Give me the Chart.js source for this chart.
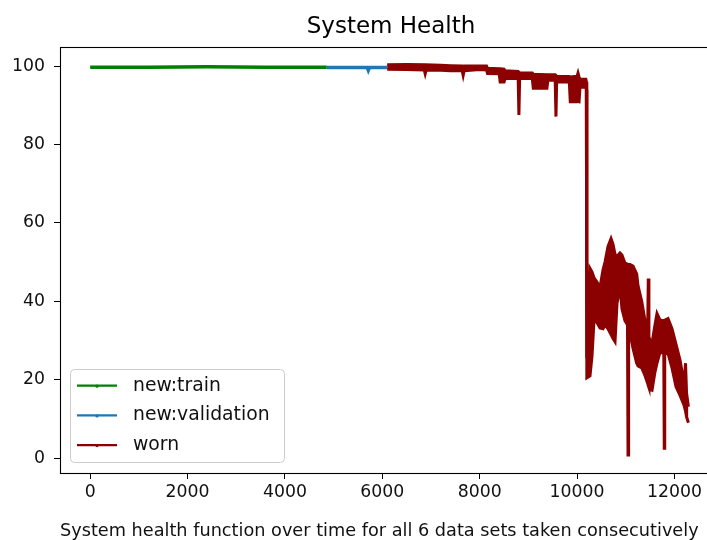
<!DOCTYPE html>
<html>
<head>
<meta charset="utf-8">
<script src="https://cdn.jsdelivr.net/npm/chart.js@4.4.1/dist/chart.umd.min.js"></script>
<style>
    html, body { margin: 0; padding: 0; background: #fff; overflow: hidden; }
    #wrap { width: 707px; height: 540px; overflow: hidden; }
    canvas { display: block; }
</style>
</head>
<body>
<div id="wrap"><canvas id="healthChart" width="722" height="540"></canvas></div>
<script>

// ticks
const xTicks = [0, 2000, 4000, 6000, 8000, 10000, 12000];
const yTicks = [0, 20, 40, 60, 80, 100];

// new:train
const trainT = [0, 1200, 2400, 3600, 4860];
const trainH = [99.7, 99.7, 99.8, 99.7, 99.7];

// new:validation
const validT = [4860, 5300, 5690, 5712, 5735, 6100];
const validH = [99.6, 99.6, 99.6, 98.9, 99.6, 99.6];

// worn: upper and lower edge of the noisy band
const wornT = [6100, 6500, 6860, 6880, 6900, 7200, 7400, 7640, 7660, 7680,
    8000, 8140, 8160, 8400, 8420, 8500, 8520, 8790, 8805, 8820,
    9080, 9100, 9380, 9400, 9550, 9566, 9580, 9840, 9860, 10000,
    10019, 10040, 10060, 10180, 10190, 10200, 10265, 10306, 10347, 10402,
    10470, 10532, 10573, 10635, 10697, 10738, 10779, 10820, 10881, 10922,
    10984, 11035, 11046, 11058, 11087, 11149, 11224, 11251, 11327, 11395,
    11450, 11462, 11475, 11497, 11539, 11600, 11641, 11703, 11780, 11790,
    11800, 11867, 11949, 12032, 12114, 12196, 12227, 12248, 12286];
const wornHi = [100.3, 100.4, 100.3, 99.8, 100.3, 100.2, 100.1, 100.0, 99.7, 100.0,
    100.0, 100.0, 99.4, 99.3, 99.3, 99.2, 98.8, 98.6, 98.4, 98.3,
    98.2, 97.9, 97.8, 97.8, 97.8, 97.6, 97.4, 97.3, 97.2, 97.4,
    98.2, 97.2, 96.6, 96.6, 96.0, 25.5, 48.4, 47.5, 46.0, 45.0,
    43.5, 48.0, 50.0, 54.0, 56.0, 54.5, 52.0, 51.4, 52.3, 51.8,
    49.7, 49.5, 49.4, 49.4, 49.4, 49.0, 47.0, 44.0, 40.0, 35.0,
    33.0, 45.8, 31.0, 30.0, 29.3, 34.0, 36.9, 35.2, 35.0, 35.0,
    35.2, 35.6, 33.0, 29.0, 25.0, 19.0, 24.2, 16.6, 13.1];
const wornLo = [99.2, 99.1, 99.0, 98.0, 99.0, 98.9, 98.8, 98.8, 97.6, 98.8,
    99.1, 99.0, 98.1, 98.0, 95.9, 95.9, 96.8, 96.8, 87.5, 96.8,
    96.8, 94.3, 94.3, 96.4, 96.4, 87.1, 95.9, 95.9, 90.9, 90.9,
    91.0, 90.9, 94.6, 94.6, 94.0, 20.5, 21.0, 26.0, 35.0, 34.7,
    33.2, 33.0, 34.0, 33.0, 31.5, 30.5, 29.7, 39.5, 43.6, 38.0,
    35.0, 34.0, 0.8, 33.0, 32.0, 28.0, 24.2, 23.5, 23.0, 21.0,
    19.0, 18.5, 18.0, 17.5, 17.3, 22.0, 24.2, 27.0, 26.7, 2.5,
    26.7, 26.7, 23.0, 18.2, 16.0, 13.5, 12.0, 10.5, 9.0];

const FONT = "'DejaVu Sans', sans-serif";

function points(ts, vs) {
    return ts.map((t, i) => ({ x: t, y: vs[i] }));
}

// box around the axes + legend in the lower left corner
const frameAndLegend = {
    id: 'frameAndLegend',
    afterDatasetsDraw(chart) {
        const { ctx, chartArea: a } = chart;
        ctx.save();
        ctx.strokeStyle = '#000';
        ctx.lineWidth = 1.1;
        ctx.strokeRect(Math.round(a.left) + 0.5, Math.round(a.top) + 0.5,
            Math.round(a.right - a.left), Math.round(a.bottom - a.top));

        const items = chart.data.datasets.filter(d => !d.noLegend);
        const bx = 70.5, by = 369.5, bw = 214, bh = 93;
        ctx.beginPath();
        ctx.roundRect(bx, by, bw, bh, 4);
        ctx.fillStyle = 'rgba(255,255,255,0.8)';
        ctx.fill();
        ctx.strokeStyle = '#cccccc';
        ctx.lineWidth = 1;
        ctx.stroke();

        items.forEach((d, i) => {
            const y = 385.7 + i * 29.7;
            ctx.strokeStyle = d.borderColor;
            ctx.lineWidth = 2.2;
            ctx.beginPath();
            ctx.moveTo(77, y);
            ctx.lineTo(117, y);
            ctx.stroke();
            ctx.fillStyle = d.borderColor;
            ctx.beginPath();
            ctx.arc(97, y + 0.5, 1.6, 0, Math.PI * 2);
            ctx.fill();
            ctx.fillStyle = '#111';
            ctx.font = '18.8px ' + FONT;
            ctx.textBaseline = 'middle';
            ctx.textAlign = 'left';
            ctx.fillText(d.label, 133, y);
        });
        ctx.restore();
    }
};

const ctx = document.getElementById('healthChart').getContext('2d');
new Chart(ctx, {
    type: 'line',
    data: {
        datasets: [
            {
                label: 'new:train',
                data: points(trainT, trainH),
                borderColor: '#008000',
                borderWidth: 3.5,
                pointRadius: 0,
                order: 3
            },
            {
                label: 'new:validation',
                data: points(validT, validH),
                borderColor: '#1f77b4',
                borderWidth: 3.5,
                pointRadius: 0,
                order: 2
            },
            {
                label: 'worn',
                data: points(wornT, wornHi),
                borderColor: '#8b0000',
                backgroundColor: '#8b0000',
                borderWidth: 3,
                pointRadius: 0,
                fill: '+1',
                order: 1
            },
            {
                label: 'worn (low edge)',
                noLegend: true,
                data: points(wornT, wornLo),
                borderColor: '#8b0000',
                borderWidth: 3,
                pointRadius: 0,
                fill: false,
                order: 1
            }
        ]
    },
    options: {
        responsive: false,
        animation: false,
        layout: { padding: 0 },
        elements: { line: { tension: 0 } },
        plugins: {
            legend: { display: false },
            tooltip: { enabled: false },
            title: {
                display: true,
                text: 'System Health',
                fullSize: false,
                color: '#000',
                font: { family: FONT, size: 23, weight: 'normal', lineHeight: 1.2 },
                padding: { top: 13.2, bottom: 6.2 }
            }
        },
        scales: {
            x: {
                type: 'linear',
                min: -620,
                max: 12976,
                afterBuildTicks: s => { s.ticks = xTicks.map(v => ({ value: v })); },
                afterFit: s => { s.height = 67; },
                grid: { drawOnChartArea: false, drawTicks: true, tickLength: 6, color: '#000' },
                border: { display: false },
                ticks: {
                    autoSkip: false,
                    maxRotation: 0,
                    padding: 3.6,
                    color: '#111',
                    font: { family: FONT, size: 17.3 },
                    callback: v => String(v)
                },
                title: {
                    display: true,
                    text: 'System health function over time for all 6 data sets taken consecutively',
                    align: 'start',
                    color: '#111',
                    font: { family: FONT, size: 17.7, lineHeight: 1 },
                    padding: { top: 0, bottom: 0 }
                }
            },
            y: {
                min: -3.8,
                max: 104.85,
                afterBuildTicks: s => { s.ticks = yTicks.map(v => ({ value: v })); },
                afterFit: s => { s.width = 60; },
                grid: { drawOnChartArea: false, drawTicks: true, tickLength: 6, color: '#000' },
                border: { display: false },
                ticks: {
                    padding: 9,
                    color: '#111',
                    font: { family: FONT, size: 17.3 },
                    callback: v => String(v)
                }
            }
        }
    },
    plugins: [frameAndLegend]
});
</script>
</body>
</html>
